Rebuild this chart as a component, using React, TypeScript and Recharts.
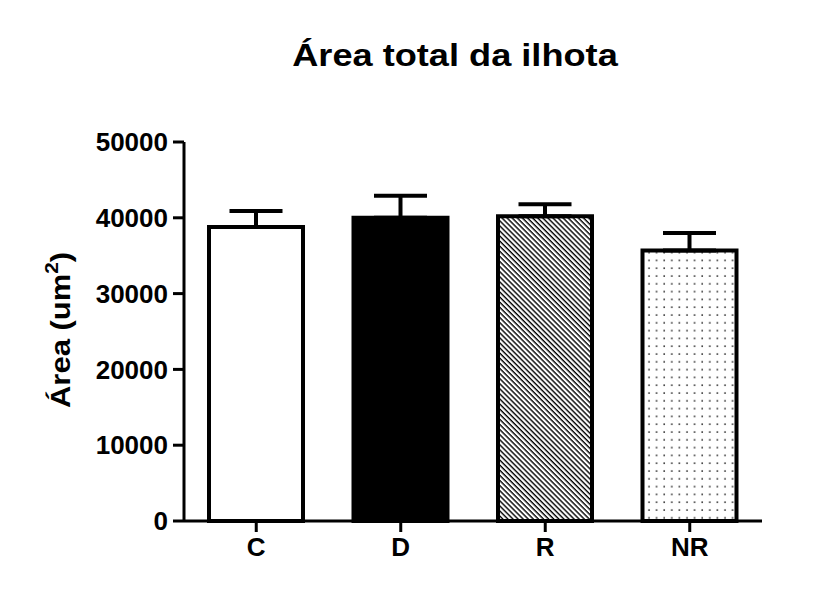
import { BarChart, Bar, XAxis, YAxis, Cell, ErrorBar } from "recharts";

// islet area per group, mean + SEM (um²)
const groups = ["C", "D", "R", "NR"];
const means = [38800, 40000, 40200, 35700];
const sems = [2100, 2900, 1600, 2300];
const yTicks = [0, 10000, 20000, 30000, 40000, 50000];

const FILLS = ["#ffffff", "#000000", "url(#hatch)", "url(#dots)"];
const FONT = "'Liberation Sans', Arial, sans-serif";

const data = groups.map((g, i) => ({
  group: g,
  mean: means[i],
  err: [0, sems[i]],
}));

const tickStyle = {
  fill: "#000",
  fontFamily: FONT,
  fontWeight: 700,
  fontSize: 26,
};

function YLabel() {
  return (
    <text
      x={61}
      y={330}
      transform="rotate(-90 61 330)"
      textAnchor="middle"
      dominantBaseline="central"
      fontFamily={FONT}
      fontWeight={700}
      fontSize={27}
      fill="#000"
      textLength={156}
      lengthAdjust="spacingAndGlyphs"
    >
      Área (um
      <tspan dy={-9} fontSize={18}>
        2
      </tspan>
      <tspan dy={9}>)</tspan>
    </text>
  );
}

export default function App() {
  return (
    <div
      style={{
        position: "absolute",
        left: 0,
        top: 0,
        width: 836,
        height: 589,
        background: "#fff",
      }}
    >
      <div
        style={{
          position: "absolute",
          left: 255,
          top: 39,
          width: 400,
          textAlign: "center",
          fontFamily: FONT,
          fontWeight: 700,
          fontSize: 32,
          lineHeight: "32px",
          color: "#000",
          transform: "scaleX(1.13)",
          transformOrigin: "center",
        }}
      >
        Área total da ilhota
      </div>
      <BarChart
        width={836}
        height={589}
        data={data}
        margin={{ top: 142, right: 74, bottom: 0, left: 0 }}
        barCategoryGap={0}
      >
        <defs>
          <pattern
            id="hatch"
            width={3.6}
            height={3.6}
            patternUnits="userSpaceOnUse"
            patternTransform="rotate(45)"
          >
            <rect x={0} y={0} width={3.6} height={3.6} fill="#fff" />
            <rect x={0} y={0} width={3.6} height={1.4} fill="#000" />
          </pattern>
          <pattern
            id="dots"
            width={7.6}
            height={7.8}
            patternUnits="userSpaceOnUse"
          >
            <rect x={0} y={0} width={7.6} height={7.8} fill="#fff" />
            <circle cx={3} cy={3} r={0.9} fill="#222" />
          </pattern>
        </defs>
        <XAxis
          dataKey="group"
          height={68}
          axisLine={{ stroke: "#000", strokeWidth: 3 }}
          tickLine={{ stroke: "#000", strokeWidth: 3 }}
          tickSize={11}
          tickMargin={6}
          tick={tickStyle}
        />
        <YAxis
          width={184}
          domain={[0, 50000]}
          ticks={yTicks}
          interval={0}
          axisLine={{ stroke: "#000", strokeWidth: 3 }}
          tickLine={{ stroke: "#000", strokeWidth: 3 }}
          tickSize={11}
          tickMargin={5}
          tick={tickStyle}
          label={<YLabel />}
        />
        <Bar
          dataKey="mean"
          barSize={94}
          stroke="#000"
          strokeWidth={4}
          isAnimationActive={false}
        >
          {data.map((_, i) => (
            <Cell key={`cell-${i}`} fill={FILLS[i]} />
          ))}
          <ErrorBar
            dataKey="err"
            direction="y"
            width={26.5}
            stroke="#000"
            strokeWidth={4}
            isAnimationActive={false}
          />
        </Bar>
      </BarChart>
    </div>
  );
}
